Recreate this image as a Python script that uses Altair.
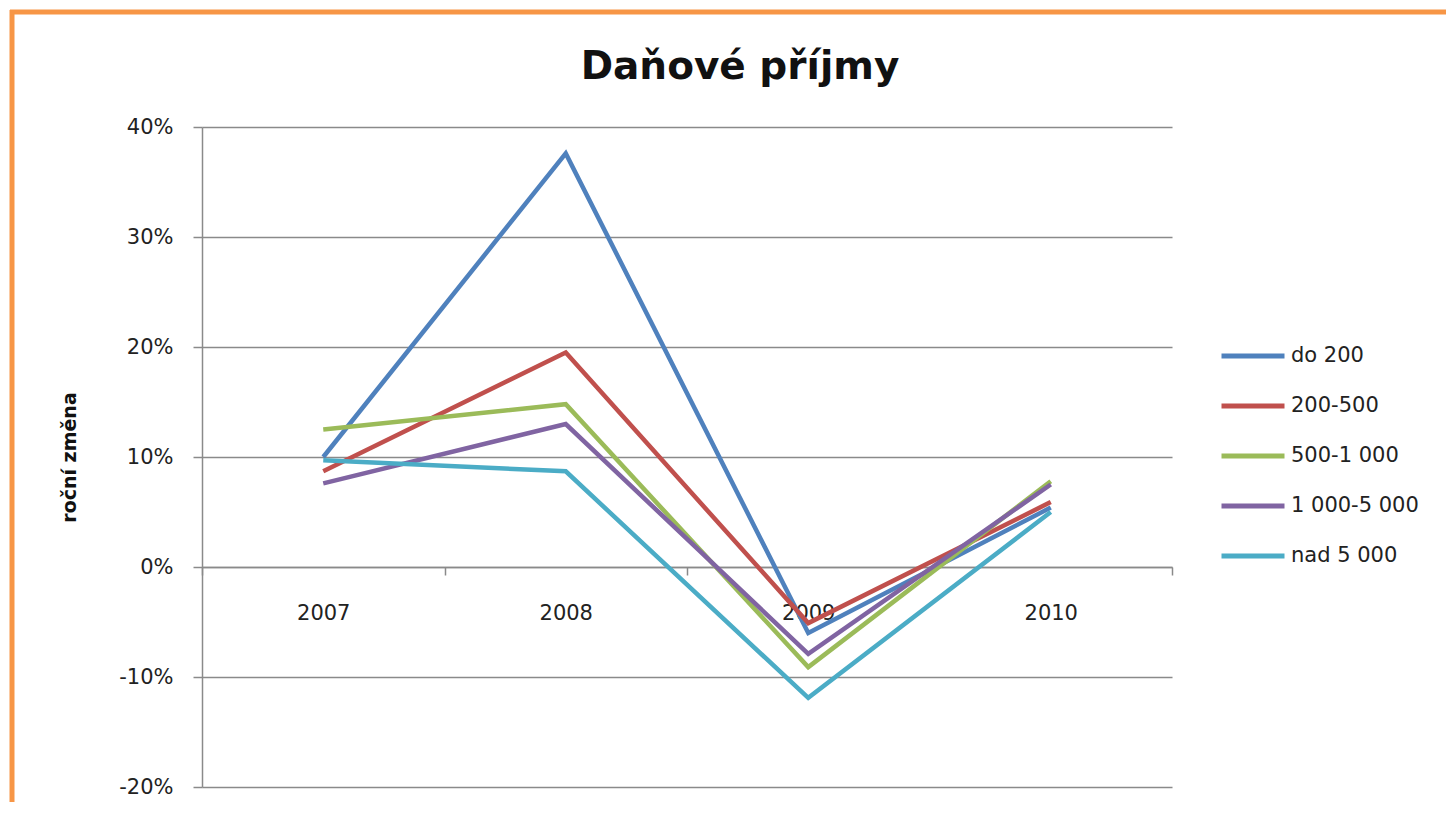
import altair as alt
import pandas as pd

years = ["2007", "2008", "2009", "2010"]
series_names = ["do 200", "200-500", "500-1 000", "1 000-5 000", "nad 5 000"]
colors = ["#4F81BD", "#C0504D", "#9BBB59", "#8064A2", "#4BACC6"]
do_200 = [10.0, 37.6, -6.0, 5.4]
s200_500 = [8.7, 19.5, -5.1, 5.9]
s500_1000 = [12.5, 14.8, -9.1, 7.8]
s1000_5000 = [7.6, 13.0, -7.9, 7.5]
nad_5000 = [9.7, 8.7, -11.9, 5.0]
y_ticks = [-20, -10, 0, 10, 20, 30, 40]

series_values = [do_200, s200_500, s500_1000, s1000_5000, nad_5000]
rows = []
for name, vals in zip(series_names, series_values):
    for yr, v in zip(years, vals):
        rows.append({"rok": yr, "skupina": name, "zmena": v})
df = pd.DataFrame(rows)

FONT = "DejaVu Sans"
GRID = "#8a8a8a"
W, H = 970, 660

lines = alt.Chart(df).mark_line(strokeWidth=4.5, strokeJoin="miter").encode(
    x=alt.X("rok:N", sort=years,
            scale=alt.Scale(type="band", paddingInner=0, paddingOuter=0),
            axis=alt.Axis(title=None, labelAngle=0, offset=-220, tickBand="extent",
                          tickSize=8, tickColor=GRID, tickWidth=1.5,
                          domainColor=GRID, domainWidth=1.5,
                          labelFont=FONT, labelFontSize=21, labelColor="#222222",
                          labelPadding=27, grid=False)),
    y=alt.Y("zmena:Q", scale=alt.Scale(domain=[-20, 40], nice=False, zero=False),
            axis=alt.Axis(values=y_ticks, title="roční změna",
                          labelExpr="(datum.value < 0 ? '-' : '') + round(abs(datum.value)) + '%'",
                          labelFont=FONT, labelFontSize=21, labelColor="#222222",
                          labelPadding=20, tickSize=9, tickColor=GRID, tickWidth=1.5,
                          domainColor=GRID, domainWidth=1.5,
                          grid=True, gridColor=GRID, gridWidth=1.4,
                          titleFont=FONT, titleFontSize=19, titleFontWeight="bold",
                          titleColor="#111111", titleAngle=270, titleX=-133, titleY=330,
                          titleAlign="center", titleBaseline="middle")),
    color=alt.Color("skupina:N", sort=series_names,
                    scale=alt.Scale(domain=series_names, range=colors),
                    legend=alt.Legend(title=None, orient="none", legendX=1017, legendY=214,
                                      symbolType="stroke", symbolSize=3969,
                                      symbolStrokeWidth=5, clipHeight=30, rowPadding=20,
                                      labelOffset=4, labelFont=FONT, labelFontSize=21,
                                      labelColor="#222222", padding=0)),
    order=alt.Order("rok:N"),
)

border = alt.Chart(alt.InlineData(values=[{"a": 1}]))
left_border = border.mark_rule(color="#F79646", strokeWidth=5).encode(
    x=alt.value(-190), y=alt.value(-117), y2=alt.value(H + 40))
top_border = border.mark_rule(color="#F79646", strokeWidth=5).encode(
    x=alt.value(-192), x2=alt.value(W + 300), y=alt.value(-115))

chart = alt.layer(left_border, top_border, lines).properties(
    width=W, height=H,
    autosize=alt.AutoSizeParams(type="none"),
    padding={"left": 194, "top": 119, "right": 274, "bottom": 15},
    title=alt.TitleParams("Daňové příjmy", font=FONT, fontSize=39, fontWeight="bold",
                          color="#111111", anchor="middle", dx=53, offset=0, dy=79),
).configure_view(stroke=None)

chart.save("out.html", embed_options={"renderer": "svg", "actions": False})
